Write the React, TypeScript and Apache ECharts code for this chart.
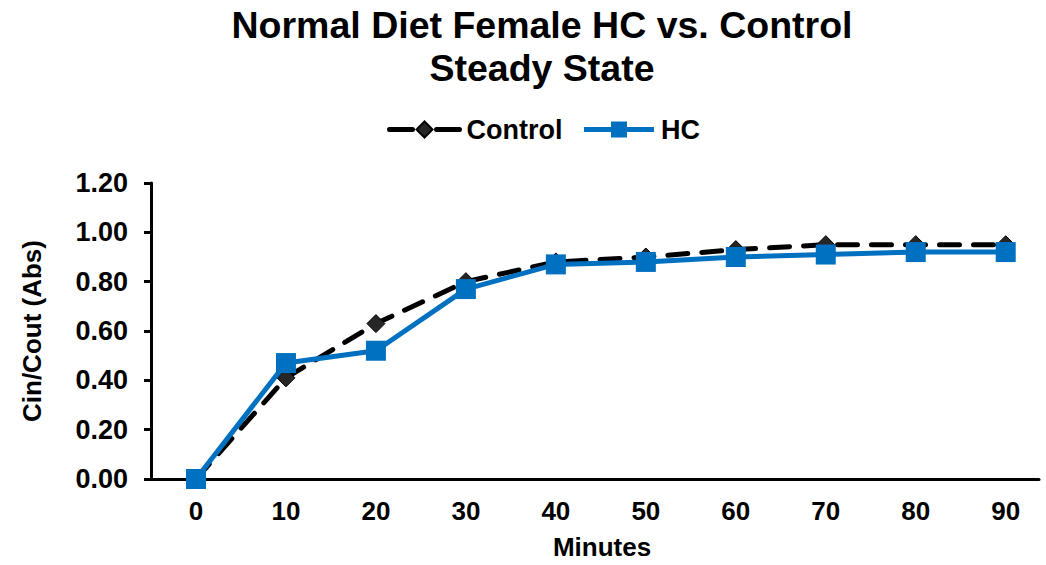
import React, { useEffect, useRef } from "react";
import * as echarts from "echarts";

const minutes = [0, 10, 20, 30, 40, 50, 60, 70, 80, 90];
const control = [0.0, 0.41, 0.63, 0.8, 0.88, 0.9, 0.93, 0.95, 0.95, 0.95];
const hc = [0.0, 0.47, 0.52, 0.77, 0.87, 0.88, 0.9, 0.91, 0.92, 0.92];

const FONT = "'Liberation Sans', Arial, sans-serif";

export default function App() {
  const ref = useRef<HTMLDivElement>(null);
  useEffect(() => {
    if (!ref.current) return;
    const chart = echarts.init(ref.current, undefined, { renderer: "svg" });
    chart.setOption({
      animation: false,
      backgroundColor: "#ffffff",
      title: {
        text: "Normal Diet Female HC vs. Control\nSteady State",
        left: 537,
        textAlign: "center",
        top: -2,
        textStyle: {
          fontFamily: FONT,
          fontWeight: "bold",
          fontSize: 37.5,
          lineHeight: 43,
          color: "#000",
        },
      },
      legend: {
        top: 111,
        left: 382,
        itemWidth: 70,
        itemHeight: 20,
        itemGap: 19,
        textStyle: {
          fontFamily: FONT,
          fontWeight: "bold",
          fontSize: 27,
          color: "#000",
          padding: [0, 0, 0, 2],
        },
        data: [
          {
            name: "Control",
            lineStyle: { type: [23, 24], width: 5, cap: "round", color: "#000" },
          },
          {
            name: "HC",
            lineStyle: { type: "solid", width: 5, color: "#0070C0" },
          },
        ],
      },
      grid: { left: 151, right: 7, top: 183, bottom: 84 },
      xAxis: {
        type: "value",
        min: -5,
        max: 93.7,
        name: "Minutes",
        nameLocation: "middle",
        nameGap: 55,
        nameTextStyle: {
          fontFamily: FONT,
          fontWeight: "bold",
          fontSize: 26,
          color: "#000",
          padding: [0, 0, 0, 14],
        },
        splitLine: { show: false },
        axisLine: { show: true, onZero: false, lineStyle: { color: "#000", width: 3 } },
        axisTick: { show: false },
        axisLabel: {
          customValues: minutes,
          margin: 19,
          fontFamily: FONT,
          fontWeight: "bold",
          fontSize: 26,
          color: "#000",
        },
      },
      yAxis: {
        type: "value",
        min: 0,
        max: 1.2,
        interval: 0.2,
        name: "Cin/Cout (Abs)",
        nameLocation: "middle",
        nameGap: 106,
        nameRotate: 90,
        nameTextStyle: {
          fontFamily: FONT,
          fontWeight: "bold",
          fontSize: 26,
          color: "#000",
        },
        splitLine: { show: false },
        axisLine: { show: true, onZero: false, lineStyle: { color: "#000", width: 3 } },
        axisTick: { show: true, length: 7, lineStyle: { color: "#000", width: 3 } },
        axisLabel: {
          margin: 23,
          fontFamily: FONT,
          fontWeight: "bold",
          fontSize: 27,
          color: "#000",
          formatter: (v: number) => v.toFixed(2),
        },
      },
      series: [
        {
          name: "Control",
          type: "line",
          data: minutes.map((m, i) => [m, control[i]]),
          symbol: "diamond",
          symbolSize: 18,
          lineStyle: { color: "#000", width: 5, type: [20, 14], cap: "round" },
          itemStyle: { color: "#262626", borderColor: "#000", borderWidth: 1 },
          z: 2,
        },
        {
          name: "HC",
          type: "line",
          data: minutes.map((m, i) => [m, hc[i]]),
          symbol: "rect",
          symbolSize: 20,
          lineStyle: { color: "#0070C0", width: 5 },
          itemStyle: { color: "#0070C0" },
          z: 3,
        },
      ],
    });
    return () => chart.dispose();
  }, []);
  return (
    <div
      ref={ref}
      style={{ position: "fixed", left: 0, top: 0, width: 1046, height: 565 }}
    />
  );
}
